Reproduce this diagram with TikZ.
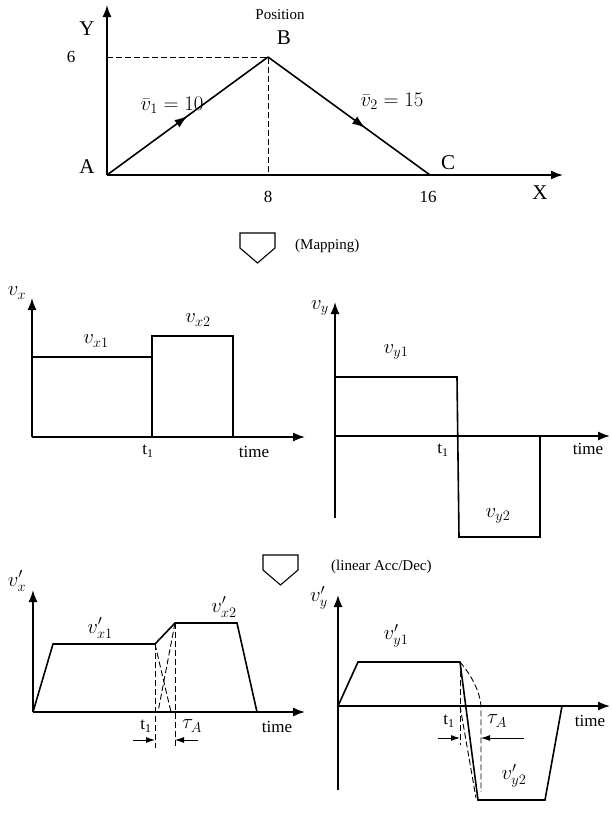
\documentclass[tikz,border=0pt]{standalone}
\usepackage{fontspec}
\setmainfont{Liberation Serif}
\usetikzlibrary{arrows.meta,positioning,decorations.markings}

\begin{document}
\begin{tikzpicture}[
    x=1pt, y=-1pt,
    axis/.style={-{Latex[length=12pt,width=9pt]}, line width=1.6pt},
    curve/.style={line width=1.6pt, line join=miter},
    guide/.style={line width=0.9pt, dash pattern=on 6pt off 3pt},
    dim/.style={-{Latex[length=9pt,width=6pt]}, line width=0.9pt},
    funnel/.style={line width=1.1pt},
    big/.style={font=\fontsize{21}{23}\selectfont, inner sep=1pt},
    lbl/.style={font=\fontsize{17}{19}\selectfont, inner sep=1pt},
    small/.style={font=\fontsize{15}{17}\selectfont, inner sep=1pt},
    vel/.style={font=\fontsize{20}{22}\selectfont, inner sep=1pt},
    midarrow/.style={postaction={decorate, decoration={markings,
        mark=at position #1 with {\arrow{Latex[length=13pt,width=9pt]}}}}}
]
\useasboundingbox (0,0) rectangle (611,830);

% position path A -> B -> C
\coordinate (A) at (107,175);
\coordinate (B) at (268,57);
\coordinate (C) at (430,175);
\coordinate (Ytop) at (107,5);
\coordinate (Xend) at (563,175);
\coordinate (Bx) at (268,175);
\coordinate (By) at (107,57);
\draw[axis] (A) -- (Ytop);
\draw[axis] (A) -- (Xend);
\draw[guide] (By) -- (B) -- (Bx);
\draw[curve, midarrow=0.5] (A) -- (B);
\draw[curve, midarrow=0.6] (B) -- (C);
\node[big] (ylab) at (87,29) {Y};
\node[lbl] (six) at (71,57) {6};
\node[small] (pos) at (280,15) {Position};
\node[big] (blab) at (284,38) {B};
\node[big] (alab) at (87,167) {A};
\node[big] (clab) at (448,163) {C};
\node[lbl] (eight) at (268,197) {8};
\node[lbl] (sixteen) at (428,197) {16};
\node[big] (xlab) at (540,193) {X};
\node[vel] (v1) at (172,105) {$\bar{v}_1=10$};
\node[vel] (v2) at (392,101) {$\bar{v}_2=15$};

% mapping
\draw[funnel, shift={(240,233)}] (0,0) -- (35,0) -- (35,15) -- (17.5,30) -- (0,15) -- cycle;
\node[small, anchor=west] (map) at (294,246) {(Mapping)};

% v_x
\coordinate (ox) at (32,437);
\draw[axis] (ox) -- (32,298);
\draw[axis] (ox) -- (305,437);
\draw[curve] (32,357) -- (152,357) -- (152,336) -- (233,336) -- (233,437);
\draw[curve] (152,357) -- (152,437);
\node[vel] (vx) at (17,293) {$v_x$};
\node[vel] (vx1) at (96,341) {$v_{x1}$};
\node[vel] (vx2) at (198,320) {$v_{x2}$};
\node[lbl] (t1x) at (148,451) {t\textsubscript{1}};
\node[lbl] (timex) at (254,452) {time};

% v_y
\coordinate (oy) at (335,436);
\draw[axis] (335,518) -- (335,302);
\draw[axis] (oy) -- (610,436);
\draw[curve] (335,377) -- (457,377) -- (459,537) -- (540,537) -- (540,436);
\node[vel] (vy) at (320,308) {$v_y$};
\node[vel] (vy1) at (396,352) {$v_{y1}$};
\node[vel] (vy2) at (498,516) {$v_{y2}$};
\node[lbl] (t1y) at (443,450) {t\textsubscript{1}};
\node[lbl] (timey) at (588,449) {time};

% linear acc/dec
\draw[funnel, shift={(263,555)}] (0,0) -- (35,0) -- (35,15) -- (17.5,30) -- (0,15) -- cycle;
\node[small, anchor=west] (acc) at (330,567) {(linear Acc/Dec)};

% v'_x
\coordinate (oxp) at (33,712);
\coordinate (xa) at (155,644);
\coordinate (xb) at (175,623);
\draw[axis] (oxp) -- (33,590);
\draw[axis] (oxp) -- (305,712);
\draw[curve] (oxp) -- (53,644) -- (xa) -- (xb) -- (237,623) -- (257,712);
\draw[guide] (xa) -- (155,748);
\draw[guide] (xb) -- (175,748);
\draw[guide] (xa) -- (171,712);
\draw[guide] (xb) -- (158,712);
\draw[dim] (133,740) -- (155,740);
\draw[dim] (198,740) -- (175,740);
\node[vel] (vxp) at (17,581) {$v'_x$};
\node[vel] (vxp1) at (100,628) {$v'_{x1}$};
\node[vel] (vxp2) at (224,607) {$v'_{x2}$};
\node[lbl] (t1xp) at (146,726) {t\textsubscript{1}};
\node[vel] (tauxp) at (192,726) {$\tau_A$};
\node[lbl] (timexp) at (277,727) {time};

% v'_y
\coordinate (oyp) at (338,706);
\coordinate (ya) at (460,662);
\coordinate (yb) at (478,800);
\draw[axis] (338,790) -- (338,595);
\draw[axis] (oyp) -- (610,706);
\draw[curve] (oyp) -- (358,662) -- (ya) -- (yb) -- (545,800) -- (562,706);
\draw[guide] (ya) -- (460,745);
\draw[guide] (ya) .. controls (472,676) and (480,692) .. (481,706) -- (481,792);
\draw[guide] (460,706) -- (476,798);
\draw[dim] (438,738) -- (460,738);
\draw[dim] (524,738) -- (481,738);
\node[vel] (vyp) at (319,598) {$v'_y$};
\node[vel] (vyp1) at (396,636) {$v'_{y1}$};
\node[vel] (vyp2) at (514,776) {$v'_{y2}$};
\node[lbl] (t1yp) at (449,721) {t\textsubscript{1}};
\node[vel] (tauyp) at (497,721) {$\tau_A$};
\node[lbl] (timeyp) at (590,721) {time};
\end{tikzpicture}
\end{document}
